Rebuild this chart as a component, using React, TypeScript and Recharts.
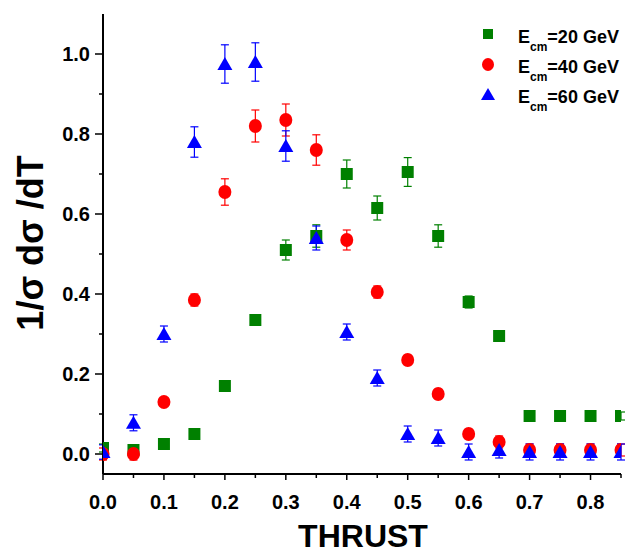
import React from 'react';
import { ScatterChart, Scatter, XAxis, YAxis, ErrorBar, Legend, Label } from 'recharts';

const thrust = [0, 0.05, 0.1, 0.15, 0.2, 0.25, 0.3, 0.35, 0.4, 0.45, 0.5, 0.55, 0.6, 0.65, 0.7, 0.75, 0.8, 0.85];

// E_cm = 20 GeV
const y20 = [0.015, 0.01, 0.025, 0.05, 0.17, 0.335, 0.51, 0.545, 0.7, 0.615, 0.705, 0.545, 0.38, 0.295, 0.095, 0.095, 0.095, 0.095];
const e20 = [0.01, 0.01, 0.01, 0.01, 0.01, 0.012, 0.025, 0.028, 0.035, 0.03, 0.036, 0.028, 0.015, 0.012, 0.01, 0.01, 0.01, 0.01];

// E_cm = 40 GeV
const y40 = [0, 0, 0.13, 0.385, 0.655, 0.82, 0.835, 0.76, 0.535, 0.405, 0.235, 0.15, 0.05, 0.03, 0.01, 0.01, 0.01, 0.01];
const e40 = [0.015, 0.015, 0.01, 0.015, 0.033, 0.04, 0.04, 0.038, 0.025, 0.015, 0.012, 0.012, 0.012, 0.015, 0.015, 0.015, 0.015, 0.015];

// E_cm = 60 GeV
const y60 = [0.005, 0.078, 0.3, 0.78, 0.975, 0.98, 0.77, 0.54, 0.305, 0.19, 0.05, 0.04, 0.005, 0.01, 0.005, 0.005, 0.005, 0.005];
const e60 = [0.018, 0.02, 0.02, 0.038, 0.048, 0.048, 0.038, 0.03, 0.02, 0.02, 0.02, 0.02, 0.02, 0.02, 0.02, 0.02, 0.02, 0.02];

const xMajor = [0, 0.1, 0.2, 0.3, 0.4, 0.5, 0.6, 0.7, 0.8];
const xMinor = [0.05, 0.15, 0.25, 0.35, 0.45, 0.55, 0.65, 0.75, 0.85];
const yMajor = [0, 0.2, 0.4, 0.6, 0.8, 1.0];
const yMinor = [0.1, 0.3, 0.5, 0.7, 0.9];

const xTicks = [...xMajor, ...xMinor].sort((a, b) => a - b);
const yTicks = [...yMajor, ...yMinor].sort((a, b) => a - b);

const GREEN = '#008000';
const RED = '#ff0000';
const BLUE = '#0000ff';
const FONT = "'Liberation Sans', Arial, Helvetica, sans-serif";

const toPoints = (ys: number[], es: number[]) => thrust.map((x, i) => ({ x, y: ys[i], err: es[i] }));

const d20 = toPoints(y20, e20);
const d40 = toPoints(y40, e40);
const d60 = toPoints(y60, e60);

const isMajor = (list: number[], v: number) => list.some((m) => Math.abs(m - v) < 1e-6);

const square = (p: any) => <rect x={p.cx - 6} y={p.cy - 6} width={12} height={12} fill={GREEN} />;
const circle = (p: any) => <ellipse cx={p.cx} cy={p.cy} rx={6.5} ry={7} fill={RED} />;
const triangle = (p: any) => (
  <polygon points={`${p.cx},${p.cy - 7} ${p.cx + 7.5},${p.cy + 6} ${p.cx - 7.5},${p.cy + 6}`} fill={BLUE} />
);

const YTick = (props: any) => {
  const { x, y, payload } = props;
  const major = isMajor(yMajor, payload.value);
  return (
    <g>
      <line x1={x + (major ? 5 : 9)} x2={x + 13} y1={y} y2={y} stroke="#000" strokeWidth={1.5} />
      {major && (
        <text x={x} y={y} dy="0.355em" textAnchor="end" fontFamily={FONT} fontWeight="bold" fontSize={20} fill="#000">
          {payload.value.toFixed(1)}
        </text>
      )}
    </g>
  );
};

const XTick = (props: any) => {
  const { x, y, payload } = props;
  const major = isMajor(xMajor, payload.value);
  return (
    <g>
      <line x1={x} x2={x} y1={y - 21} y2={y - (major ? 15 : 17)} stroke="#000" strokeWidth={1.5} />
      {major && (
        <text x={x} y={y} dy="0.71em" textAnchor="middle" fontFamily={FONT} fontWeight="bold" fontSize={20} fill="#000">
          {payload.value.toFixed(1)}
        </text>
      )}
    </g>
  );
};

// inward ticks on the top and right frame (mirrored axes, tickMargin 0)
const TopTick = (props: any) => {
  const { x, y } = props;
  return <line x1={x} x2={x} y1={y - 3} y2={y} stroke="#000" strokeWidth={1.5} />;
};

const RightTick = (props: any) => {
  const { x, y } = props;
  return <line x1={x} x2={x + 4} y1={y} y2={y} stroke="#000" strokeWidth={1.5} />;
};

const legendRows = [
  { label: '=20 GeV', color: GREEN, kind: 'square' },
  { label: '=40 GeV', color: RED, kind: 'circle' },
  { label: '=60 GeV', color: BLUE, kind: 'triangle' },
];

const LegendBox = () => (
  <svg width={160} height={100} style={{ overflow: 'visible' }}>
    {legendRows.map((r, i) => {
      const cy = 19 + i * 30.5;
      const base = 28 + i * 30;
      return (
        <g key={r.label}>
          {r.kind === 'square' && <rect x={13} y={cy - 5} width={10} height={10} fill={r.color} />}
          {r.kind === 'circle' && <ellipse cx={18} cy={cy} rx={6} ry={6.5} fill={r.color} />}
          {r.kind === 'triangle' && <polygon points={`18,${cy - 7} 25,${cy + 5} 11,${cy + 5}`} fill={r.color} />}
          <text x={48} y={base} fontFamily={FONT} fontWeight="bold" fontSize={18} fill="#000">
            <tspan>E</tspan>
            <tspan fontSize={12} dy={8}>cm</tspan>
            <tspan fontSize={18} dy={-8}>{r.label}</tspan>
          </text>
        </g>
      );
    })}
  </svg>
);

const axisStroke = { stroke: '#000', strokeWidth: 2 };

export default function App() {
  return (
    <div style={{ position: 'absolute', left: 0, top: 0, background: '#fff' }}>
      <ScatterChart width={630} height={554} margin={{ top: 14, right: 9, bottom: 0, left: 0 }}>
        <XAxis
          type="number"
          dataKey="x"
          domain={[0, 0.85]}
          ticks={xTicks}
          interval={0}
          allowDataOverflow
          height={80}
          tickSize={6}
          tickMargin={15}
          tickLine={false}
          axisLine={axisStroke}
          tick={<XTick />}
        >
          <Label
            content={() => (
              <text x={363} y={547} textAnchor="middle" fontFamily={FONT} fontWeight="bold" fontSize={32} fill="#000">
                THRUST
              </text>
            )}
          />
        </XAxis>
        <YAxis
          type="number"
          dataKey="y"
          domain={[-0.05, 1.1]}
          ticks={yTicks}
          interval={0}
          allowDataOverflow
          width={103}
          tickSize={8}
          tickMargin={5}
          tickLine={false}
          axisLine={axisStroke}
          tick={<YTick />}
        >
          <Label
            content={() => (
              <text
                x={43}
                y={243}
                transform="rotate(-90, 43, 243)"
                textAnchor="middle"
                fontFamily={FONT}
                fontWeight="bold"
                fontSize={36}
                fill="#000"
              >
                1/σ dσ /dT
              </text>
            )}
          />
        </YAxis>
        <XAxis
          xAxisId="top"
          orientation="top"
          type="number"
          domain={[0, 0.85]}
          ticks={xTicks}
          interval={0}
          allowDataOverflow
          height={0}
          mirror
          tickSize={3}
          tickMargin={0}
          tickLine={false}
          axisLine={axisStroke}
          tick={<TopTick />}
        />
        <YAxis
          yAxisId="right"
          orientation="right"
          type="number"
          domain={[-0.05, 1.1]}
          ticks={yTicks}
          interval={0}
          allowDataOverflow
          width={0}
          mirror
          tickSize={4}
          tickMargin={0}
          tickLine={false}
          axisLine={axisStroke}
          tick={<RightTick />}
        />
        <Legend
          layout="vertical"
          verticalAlign="middle"
          align="center"
          wrapperStyle={{ left: 470, top: 15, width: 160, height: 100 }}
          content={() => <LegendBox />}
        />
        <Scatter name="20" data={d20} shape={square} isAnimationActive={false}>
          <ErrorBar dataKey="err" direction="y" width={4} stroke={GREEN} strokeWidth={1.2} />
        </Scatter>
        <Scatter name="40" data={d40} shape={circle} isAnimationActive={false}>
          <ErrorBar dataKey="err" direction="y" width={4} stroke={RED} strokeWidth={1.2} />
        </Scatter>
        <Scatter name="60" data={d60} shape={triangle} isAnimationActive={false}>
          <ErrorBar dataKey="err" direction="y" width={4} stroke={BLUE} strokeWidth={1.2} />
        </Scatter>
      </ScatterChart>
    </div>
  );
}
